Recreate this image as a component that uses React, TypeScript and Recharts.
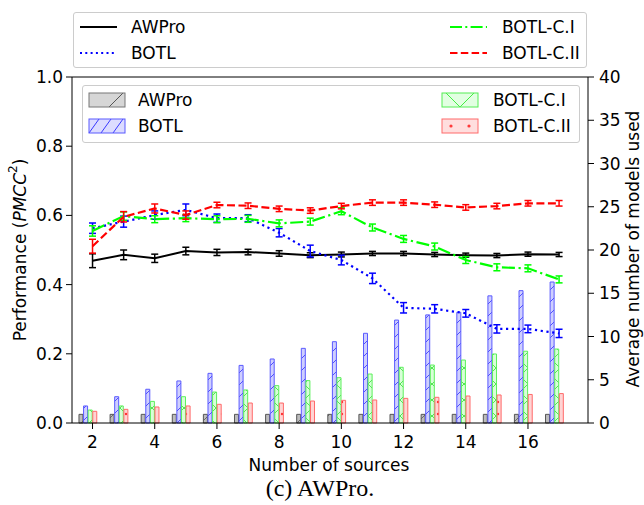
import React from 'react';
import { ComposedChart, Bar, Line, XAxis, YAxis, ErrorBar, ReferenceLine, Label } from 'recharts';

// ---- data ----
const sources = [2, 3, 4, 5, 6, 7, 8, 9, 10, 11, 12, 13, 14, 15, 16, 17];

const awproPerf = [0.469, 0.486, 0.476, 0.497, 0.493, 0.494, 0.490, 0.485, 0.487, 0.490, 0.490, 0.487, 0.485, 0.484, 0.488, 0.487];
const awproErr = [0.020, 0.014, 0.012, 0.011, 0.009, 0.008, 0.008, 0.007, 0.007, 0.006, 0.006, 0.006, 0.006, 0.006, 0.006, 0.006];

const botlPerf = [0.563, 0.582, 0.601, 0.616, 0.592, 0.592, 0.550, 0.497, 0.471, 0.418, 0.333, 0.330, 0.317, 0.272, 0.272, 0.259];
const botlErr = [0.015, 0.016, 0.012, 0.017, 0.012, 0.010, 0.012, 0.017, 0.014, 0.015, 0.015, 0.012, 0.011, 0.012, 0.011, 0.012];

const c1Perf = [0.555, 0.598, 0.589, 0.592, 0.589, 0.590, 0.577, 0.582, 0.612, 0.565, 0.532, 0.510, 0.471, 0.450, 0.447, 0.415];
const c1Err = [0.015, 0.012, 0.010, 0.010, 0.010, 0.010, 0.010, 0.010, 0.010, 0.010, 0.010, 0.010, 0.010, 0.010, 0.010, 0.010];

const c2Perf = [0.511, 0.596, 0.620, 0.601, 0.630, 0.628, 0.619, 0.614, 0.627, 0.637, 0.637, 0.631, 0.623, 0.627, 0.635, 0.635];
const c2Err = [0.020, 0.015, 0.013, 0.012, 0.008, 0.008, 0.008, 0.008, 0.008, 0.008, 0.008, 0.008, 0.008, 0.008, 0.008, 0.008];

const awproModels = [1, 1, 1, 1, 1, 1, 1, 1, 1, 1, 1, 1, 1, 1, 1, 1];
const botlModels = [1.97, 3.04, 3.9, 4.86, 5.74, 6.66, 7.4, 8.63, 9.4, 10.37, 11.9, 12.5, 12.8, 14.7, 15.3, 16.3];
const c1Models = [1.5, 1.97, 2.5, 3.04, 3.58, 3.82, 4.32, 4.9, 5.24, 5.66, 6.44, 6.7, 7.28, 7.98, 8.3, 8.55];
const c2Models = [1.35, 1.58, 1.85, 1.97, 2.16, 2.31, 2.31, 2.54, 2.62, 2.66, 2.85, 2.97, 3.12, 3.24, 3.3, 3.4];

const xTicks = [2, 4, 6, 8, 10, 12, 14, 16];
const leftTicks = [0, 0.2, 0.4, 0.6, 0.8, 1.0];
const rightTicks = [0, 5, 10, 15, 20, 25, 30, 35, 40];

const rows = sources.map((x, i) => ({
  x,
  awpro: awproPerf[i], awproErr: awproErr[i],
  botl: botlPerf[i], botlErr: botlErr[i],
  c1: c1Perf[i], c1Err: c1Err[i],
  c2: c2Perf[i], c2Err: c2Err[i],
  mAwpro: awproModels[i],
  mBotl: botlModels[i],
  mC1: c1Models[i],
  mC2: c2Models[i],
}));

const FONT = "'DejaVu Sans', sans-serif";
const SERIF = "'Liberation Serif', 'DejaVu Serif', serif";

const tickStyle = { fontSize: 17, fill: '#000', fontFamily: FONT };

const LineSwatch = ({ color, dash }: { color: string; dash?: string }) => (
  <svg width={37} height={6} style={{ display: 'block' }}>
    <line x1={0} y1={3} x2={37} y2={3} stroke={color} strokeWidth={2} strokeDasharray={dash} />
  </svg>
);

const PatchSwatch = ({ kind }: { kind: string }) => {
  const w = 36, h = 14;
  let fill = '#d6d6d6', stroke = '#777', inner: React.ReactNode = null;
  if (kind === 'grey') {
    inner = <line x1={20} y1={h} x2={34} y2={0} stroke="#555" strokeWidth={1} />;
  } else if (kind === 'blue') {
    fill = '#dcdcff'; stroke = '#5a5aff';
    inner = (
      <g stroke="#3a3aff" strokeWidth={1}>
        <line x1={0} y1={h} x2={10} y2={0} />
        <line x1={12} y1={h} x2={22} y2={0} />
        <line x1={24} y1={h} x2={34} y2={0} />
      </g>
    );
  } else if (kind === 'green') {
    fill = '#e2ffe2'; stroke = '#55ee55';
    inner = (
      <g stroke="#44ee44" strokeWidth={1}>
        <line x1={4} y1={0} x2={18} y2={h} />
        <line x1={18} y1={h} x2={32} y2={0} />
      </g>
    );
  } else {
    fill = '#ffdede'; stroke = '#ff6a6a';
    inner = (
      <g fill="#ff3a3a">
        <circle cx={9} cy={7} r={1.6} />
        <circle cx={27} cy={7} r={1.6} />
      </g>
    );
  }
  return (
    <svg width={w + 2} height={h + 2} style={{ display: 'block' }}>
      <g transform="translate(1,1)">
        <rect x={0} y={0} width={w} height={h} fill={fill} />
        {inner}
        <rect x={0} y={0} width={w} height={h} fill="none" stroke={stroke} strokeWidth={1} />
      </g>
    </svg>
  );
};

const legendText: React.CSSProperties = {
  position: 'absolute', fontSize: 17, lineHeight: '20px', color: '#000', fontFamily: FONT, whiteSpace: 'nowrap',
};

export default function App() {
  return (
    <div style={{ position: 'absolute', left: 0, top: 0, width: 644, height: 505, fontFamily: FONT, background: '#fff' }}>
      <ComposedChart
        width={644}
        height={505}
        data={rows}
        margin={{ top: 77, right: 0, bottom: 0, left: 0 }}
        barSize={4}
        barGap={0.6}
      >
        <defs>
          <pattern id="hGrey" patternUnits="userSpaceOnUse" width="24" height="24">
            <rect width="24" height="24" fill="#bcbcbc" />
            <path d="M0,24 L24,0" stroke="#555" strokeWidth="0.8" />
          </pattern>
          <pattern id="hBlue" patternUnits="userSpaceOnUse" width="12" height="12">
            <rect width="12" height="12" fill="#cfcfff" />
            <path d="M0,12 L12,0 M-1,1 L1,-1 M11,13 L13,11" stroke="#2f2fff" strokeWidth="0.8" />
          </pattern>
          <pattern id="hGreen" patternUnits="userSpaceOnUse" width="16" height="16">
            <rect width="16" height="16" fill="#d8ffd8" />
            <path d="M0,0 L16,16 M16,0 L0,16" stroke="#33dd33" strokeWidth="0.8" />
          </pattern>
          <pattern id="hRed" patternUnits="userSpaceOnUse" width="12" height="12">
            <rect width="12" height="12" fill="#ffd4d4" />
            <circle cx="6" cy="6" r="1.2" fill="#ff3030" />
          </pattern>
        </defs>

        <XAxis
          dataKey="x"
          type="number"
          domain={[1.34, 17.93]}
          allowDataOverflow
          ticks={xTicks}
          interval={0}
          height={82}
          tickSize={6}
          tickMargin={7}
          tick={tickStyle}
          axisLine={{ stroke: '#000', strokeWidth: 1 }}
          tickLine={{ stroke: '#000', strokeWidth: 1 }}
        >
          <Label
            content={() => (
              <g>
                <text x={329} y={471} textAnchor="middle" fontSize={17} fontFamily={FONT} fill="#000">
                  Number of sources
                </text>
                <text x={320} y={496} textAnchor="middle" fontSize={24} fontFamily={SERIF} fill="#000">
                  (c) AWPro.
                </text>
              </g>
            )}
          />
        </XAxis>

        <YAxis
          yAxisId="left"
          domain={[0, 1]}
          ticks={leftTicks}
          interval={0}
          width={72}
          tickSize={6}
          tickMargin={3}
          tick={tickStyle}
          tickFormatter={(v: number) => v.toFixed(1)}
          axisLine={{ stroke: '#000', strokeWidth: 1 }}
          tickLine={{ stroke: '#000', strokeWidth: 1 }}
        >
          <Label
            content={() => (
              <text
                x={20}
                y={250}
                transform="rotate(-90 20 250)"
                textAnchor="middle"
                dominantBaseline="central"
                fontSize={17}
                fontFamily={FONT}
                fill="#000"
              >
                Performance (<tspan fontStyle="italic">PMCC</tspan>
                <tspan fontSize={12} baselineShift="super">2</tspan>)
              </text>
            )}
          />
        </YAxis>

        <YAxis
          yAxisId="right"
          orientation="right"
          domain={[0, 40]}
          ticks={rightTicks}
          interval={0}
          width={56}
          tickSize={6}
          tickMargin={5}
          tick={tickStyle}
          axisLine={{ stroke: '#000', strokeWidth: 1 }}
          tickLine={{ stroke: '#000', strokeWidth: 1 }}
        >
          <Label
            content={() => (
              <text
                x={633}
                y={249}
                transform="rotate(-90 633 249)"
                textAnchor="middle"
                dominantBaseline="central"
                fontSize={17}
                fontFamily={FONT}
                fill="#000"
              >
                Average number of models used
              </text>
            )}
          />
        </YAxis>

        <ReferenceLine yAxisId="left" y={1} stroke="#000" strokeWidth={1} />

        <Bar yAxisId="right" dataKey="mAwpro" fill="url(#hGrey)" stroke="#555" strokeWidth={1} isAnimationActive={false} />
        <Bar yAxisId="right" dataKey="mBotl" fill="url(#hBlue)" stroke="#5a5aff" strokeWidth={1} isAnimationActive={false} />
        <Bar yAxisId="right" dataKey="mC1" fill="url(#hGreen)" stroke="#5cf05c" strokeWidth={1} isAnimationActive={false} />
        <Bar yAxisId="right" dataKey="mC2" fill="url(#hRed)" stroke="#ff6a6a" strokeWidth={1} isAnimationActive={false} />
        <Bar yAxisId="right" dataKey="slotE" fill="none" isAnimationActive={false} />
        <Bar yAxisId="right" dataKey="slotF" fill="none" isAnimationActive={false} />

        <Line yAxisId="left" type="linear" dataKey="awpro" stroke="#000" strokeWidth={2} dot={false} isAnimationActive={false}>
          <ErrorBar dataKey="awproErr" direction="y" width={3.5} stroke="#000" strokeWidth={1.5} />
        </Line>
        <Line yAxisId="left" type="linear" dataKey="botl" stroke="#0000ff" strokeWidth={2.2} strokeDasharray="2.2 3.6" dot={false} isAnimationActive={false}>
          <ErrorBar dataKey="botlErr" direction="y" width={3.5} stroke="#0000ff" strokeWidth={1.5} />
        </Line>
        <Line yAxisId="left" type="linear" dataKey="c1" stroke="#00ff00" strokeWidth={2.2} strokeDasharray="13 3.6 2.2 3.6" dot={false} isAnimationActive={false}>
          <ErrorBar dataKey="c1Err" direction="y" width={3.5} stroke="#00ff00" strokeWidth={1.5} />
        </Line>
        <Line yAxisId="left" type="linear" dataKey="c2" stroke="#ff0000" strokeWidth={2.2} strokeDasharray="8 3.5" dot={false} isAnimationActive={false}>
          <ErrorBar dataKey="c2Err" direction="y" width={3.5} stroke="#ff0000" strokeWidth={1.5} />
        </Line>
      </ComposedChart>

      {/* top legend (lines) */}
      <div style={{ position: 'absolute', left: 73, top: 12, width: 514, height: 56, border: '1px solid #cccccc', borderRadius: 3, background: 'rgba(255,255,255,0.8)', boxSizing: 'border-box' }} />
      <div style={{ position: 'absolute', left: 80, top: 24 }}><LineSwatch color="#000" /></div>
      <div style={{ ...legendText, left: 131, top: 17 }}>AWPro</div>
      <div style={{ position: 'absolute', left: 80, top: 50 }}><LineSwatch color="#0000ff" dash="2 3.3" /></div>
      <div style={{ ...legendText, left: 131, top: 43 }}>BOTL</div>
      <div style={{ position: 'absolute', left: 450, top: 24 }}><LineSwatch color="#00ff00" dash="12 3.3 2 3.3" /></div>
      <div style={{ ...legendText, left: 502, top: 17 }}>BOTL-C.I</div>
      <div style={{ position: 'absolute', left: 450, top: 50 }}><LineSwatch color="#ff0000" dash="7.5 3.3" /></div>
      <div style={{ ...legendText, left: 502, top: 43 }}>BOTL-C.II</div>

      {/* inner legend (bars) */}
      <div style={{ position: 'absolute', left: 82, top: 85, width: 498, height: 58, border: '1px solid #cccccc', borderRadius: 3, background: 'rgba(255,255,255,0.8)', boxSizing: 'border-box' }} />
      <div style={{ position: 'absolute', left: 88, top: 92 }}><PatchSwatch kind="grey" /></div>
      <div style={{ ...legendText, left: 138, top: 90 }}>AWPro</div>
      <div style={{ position: 'absolute', left: 88, top: 118 }}><PatchSwatch kind="blue" /></div>
      <div style={{ ...legendText, left: 138, top: 116 }}>BOTL</div>
      <div style={{ position: 'absolute', left: 441, top: 92 }}><PatchSwatch kind="green" /></div>
      <div style={{ ...legendText, left: 493, top: 90 }}>BOTL-C.I</div>
      <div style={{ position: 'absolute', left: 441, top: 118 }}><PatchSwatch kind="red" /></div>
      <div style={{ ...legendText, left: 493, top: 116 }}>BOTL-C.II</div>
    </div>
  );
}
